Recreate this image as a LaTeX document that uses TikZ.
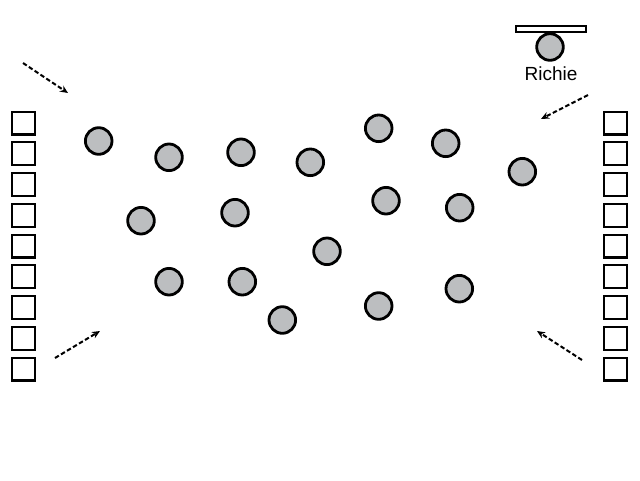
\documentclass[tikz,border=0pt]{standalone}
\usepackage{fontspec}
\setmainfont{Liberation Sans}
\usetikzlibrary{arrows.meta}
\begin{document}
\begin{tikzpicture}[x=1pt,y=-1pt,
  ball/.style={circle,draw=black,line width=2.8pt,fill=ballgray,minimum size=26.6pt,inner sep=0pt},
  cell/.style={rectangle,draw=black,line width=2.2pt,fill=white,minimum size=22.8pt,inner sep=0pt},
  flow/.style={line width=2pt,dash pattern=on 4.5pt off 2.5pt,-{Stealth[length=8pt,width=7pt]}}]
\definecolor{ballgray}{HTML}{BCBEC0}
\useasboundingbox (0,0) rectangle (640,480);
% left and right columns of cells
\foreach \i in {0,...,8}{
  \node[cell] (L\i) at (23.5,{123+30.75*\i}) {};
  \node[cell] (R\i) at (615.5,{123+30.75*\i}) {};
}
% balls
\node[ball] (b1) at (98.7,141) {};
\node[ball] (b2) at (169,157.3) {};
\node[ball] (b3) at (241,152.3) {};
\node[ball] (b4) at (310.3,162.3) {};
\node[ball] (b5) at (141,220.7) {};
\node[ball] (b6) at (235,212.7) {};
\node[ball] (b7) at (378.7,128.3) {};
\node[ball] (b8) at (445.7,143.3) {};
\node[ball] (b9) at (522.3,171.7) {};
\node[ball] (b10) at (386,200.7) {};
\node[ball] (b11) at (459.7,207.7) {};
\node[ball] (b12) at (327,251.3) {};
\node[ball] (b13) at (169,281.7) {};
\node[ball] (b14) at (242.3,281.7) {};
\node[ball] (b15) at (282.3,320) {};
\node[ball] (b16) at (378.7,306) {};
\node[ball] (b17) at (459.3,288.7) {};
% Richie
\node[rectangle,draw=black,line width=2pt,fill=white,minimum width=70pt,minimum height=6.5pt,inner sep=0pt] (bar) at (551,29) {};
\node[ball] (rich) at (550,47) {};
\node[font=\fontsize{19}{22}\selectfont,inner sep=0pt,anchor=base] (richlbl) at (551,80.5) {Richie};
% arrows
\coordinate (a1s) at (23,63); \coordinate (a1e) at (68,93);
\coordinate (a2s) at (55,358); \coordinate (a2e) at (100,331);
\coordinate (a3s) at (588,95); \coordinate (a3e) at (541,119);
\coordinate (a4s) at (582,360); \coordinate (a4e) at (537,331);
\draw[flow] (a1s) -- (a1e);
\draw[flow] (a2s) -- (a2e);
\draw[flow] (a3s) -- (a3e);
\draw[flow] (a4s) -- (a4e);
\end{tikzpicture}
\end{document}
